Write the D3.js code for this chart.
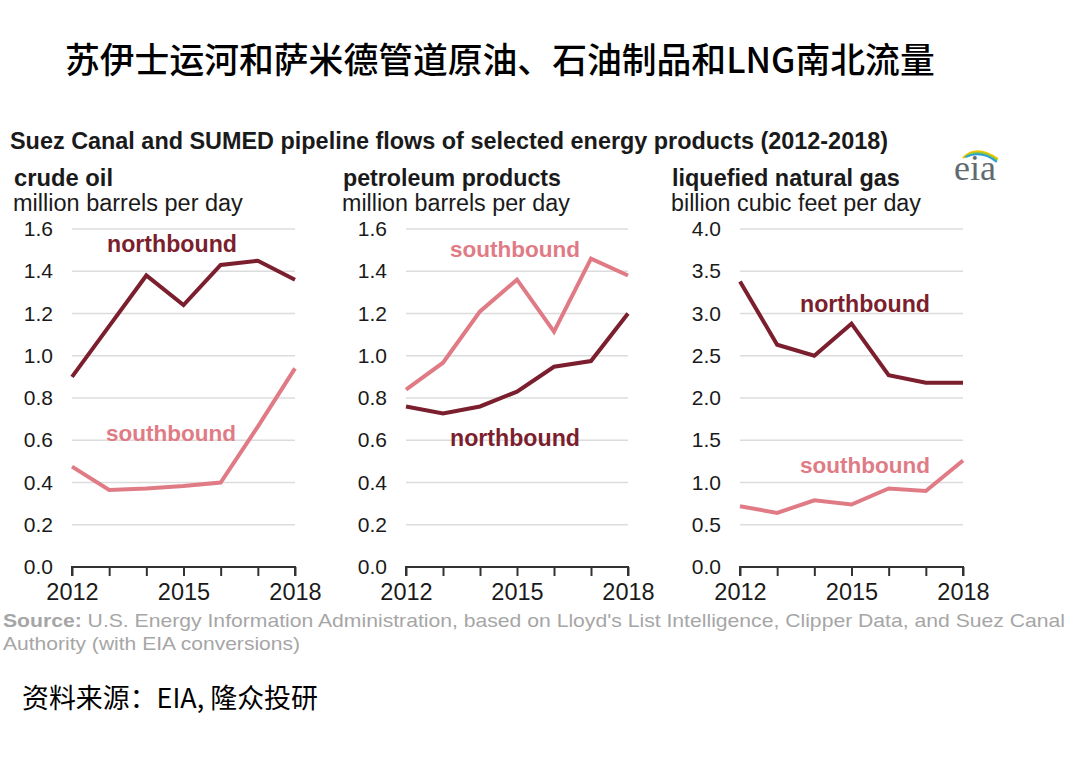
<!DOCTYPE html>
<html>
<head>
<meta charset="utf-8">
<script src="https://cdn.jsdelivr.net/npm/d3@7"></script>
<style>
  body { margin: 0; background: #fff; }
  svg { display: block; font-family: "Liberation Sans", Arial, sans-serif; }
</style>
</head>
<body>
<svg id="chart" width="1080" height="759"></svg>
<script>
const years = [2012, 2013, 2014, 2015, 2016, 2017, 2018];
const yearTicks = [2012, 2015, 2018];

const crudeNorth = [0.90, 1.14, 1.38, 1.24, 1.43, 1.45, 1.36];
const crudeSouth = [0.475, 0.365, 0.372, 0.383, 0.40, 0.665, 0.94];
const productsNorth = [0.76, 0.727, 0.76, 0.83, 0.948, 0.975, 1.20];
const productsSouth = [0.84, 0.967, 1.21, 1.36, 1.114, 1.46, 1.38];
const lngNorth = [3.38, 2.63, 2.50, 2.88, 2.27, 2.18, 2.18];
const lngSouth = [0.72, 0.64, 0.79, 0.74, 0.93, 0.90, 1.26];

const barrelTicks = [0, 0.2, 0.4, 0.6, 0.8, 1.0, 1.2, 1.4, 1.6];
const gasTicks = [0, 0.5, 1.0, 1.5, 2.0, 2.5, 3.0, 3.5, 4.0];

const northColor = "#7b1f2e";
const southColor = "#e07b86";

const svg = d3.select("#chart");

// shrink/grow font so text spans a given width
function fitWidth(sel, w) {
    let node = sel.node();
    let fs = parseFloat(sel.attr("font-size"));
    let len = node.getComputedTextLength();
    if (len > 0) sel.attr("font-size", (fs * w / len).toFixed(2));
    return sel;
}

// chinese header
fitWidth(svg.append("text")
    .attr("x", 65).attr("y", 73)
    .attr("font-family", "'Noto Sans CJK SC', sans-serif")
    .attr("font-weight", 500)
    .attr("font-size", 32)
    .attr("fill", "#000")
    .text("苏伊士运河和萨米德管道原油、石油制品和LNG南北流量"), 870);

// english chart title
fitWidth(svg.append("text")
    .attr("x", 10).attr("y", 149)
    .attr("font-weight", "bold")
    .attr("font-size", 20)
    .attr("fill", "#1a1a1a")
    .text("Suez Canal and SUMED pipeline flows of selected energy products (2012-2018)"), 878);

// eia logo
const logo = svg.append("g").attr("transform", "translate(930,145)");
const arcs = [["#f2c500", 0], ["#8cc63f", 3], ["#2a9fd8", 6]];
arcs.forEach(function(a) {
    logo.append("path")
        .attr("d", `M ${33 + a[1] * 0.5} ${13 - a[1] * 0.2} Q ${46 + a[1]} ${-1 + a[1]} ${68 - a[1] * 0.2} ${14 + a[1] * 0.5}`)
        .attr("fill", "none")
        .attr("stroke", a[0])
        .attr("stroke-width", 2);
});
logo.append("text")
    .attr("x", 45).attr("y", 35)
    .attr("text-anchor", "middle")
    .attr("font-family", "'Liberation Serif', serif")
    .attr("font-size", 36)
    .attr("fill", "#5f6b70")
    .text("eia");

const panels = [
    { title: "crude oil", titleW: 99, unit: "million barrels per day", unitW: 230,
      left: 72, right: 295, titleX: 14,
      ticks: barrelTicks, max: 1.6, fmt: d3.format(".1f"),
      series: [
        { name: "northbound", values: crudeNorth, color: northColor, lx: 172, ly: 252 },
        { name: "southbound", values: crudeSouth, color: southColor, lx: 171, ly: 441 }
      ] },
    { title: "petroleum products", titleW: 218, unit: "million barrels per day", unitW: 228,
      left: 406, right: 628, titleX: 343,
      ticks: barrelTicks, max: 1.6, fmt: d3.format(".1f"),
      series: [
        { name: "southbound", values: productsSouth, color: southColor, lx: 515, ly: 257 },
        { name: "northbound", values: productsNorth, color: northColor, lx: 515, ly: 446 }
      ] },
    { title: "liquefied natural gas", titleW: 228, unit: "billion cubic feet per day", unitW: 250,
      left: 740, right: 963, titleX: 672,
      ticks: gasTicks, max: 4.0, fmt: d3.format(".1f"),
      series: [
        { name: "northbound", values: lngNorth, color: northColor, lx: 865, ly: 312 },
        { name: "southbound", values: lngSouth, color: southColor, lx: 865, ly: 473 }
      ] }
];

const plotTop = 229;
const plotBottom = 567;

panels.forEach(function(p) {
    let g = svg.append("g");

    let x = d3.scaleLinear([2012, 2018], [p.left, p.right]);
    let y = d3.scaleLinear([0, p.max], [plotBottom, plotTop]);

    fitWidth(g.append("text")
        .attr("x", p.titleX).attr("y", 186)
        .attr("font-weight", "bold")
        .attr("font-size", 21)
        .attr("fill", "#1a1a1a")
        .text(p.title), p.titleW);
    fitWidth(g.append("text")
        .attr("x", p.titleX - 1).attr("y", 211)
        .attr("font-size", 20.5)
        .attr("fill", "#1a1a1a")
        .text(p.unit), p.unitW);

    // grid lines
    g.selectAll(".grid").data(p.ticks.filter(d => d > 0))
        .enter().append("line")
        .attr("class", "grid")
        .attr("x1", p.left).attr("x2", p.right)
        .attr("y1", d => y(d)).attr("y2", d => y(d))
        .attr("stroke", "#dcdcdc")
        .attr("stroke-width", 1.5);

    // y axis labels
    let yaxis = d3.axisLeft(y).tickValues(p.ticks).tickFormat(p.fmt).tickSize(0).tickPadding(0);
    let ya = g.append("g")
        .attr("transform", `translate(${p.left - 19},0)`)
        .call(yaxis);
    ya.select(".domain").remove();
    ya.selectAll("text")
        .attr("font-family", "'Liberation Sans', Arial, sans-serif")
        .attr("font-size", 21)
        .attr("fill", "#1a1a1a");

    // x axis
    let xaxis = d3.axisBottom(x).tickValues(years).tickSize(9).tickFormat(d => yearTicks.includes(d) ? d : "");
    let xa = g.append("g")
        .attr("transform", `translate(0,${plotBottom})`)
        .call(xaxis);
    xa.select(".domain")
        .attr("d", `M${p.left},9V0H${p.right}V9`)
        .attr("stroke", "#333")
        .attr("stroke-width", 2);
    xa.selectAll(".tick line").attr("stroke", "#333").attr("stroke-width", 2);
    xa.selectAll("text")
        .attr("font-family", "'Liberation Sans', Arial, sans-serif")
        .attr("font-size", 23.5)
        .attr("dy", "0.71em")
        .attr("y", 16)
        .attr("fill", "#1a1a1a");

    let line = d3.line()
        .x((d, i) => x(years[i]))
        .y(d => y(d));

    p.series.forEach(function(s) {
        g.append("path")
            .datum(s.values)
            .attr("fill", "none")
            .attr("stroke", s.color)
            .attr("stroke-width", 4)
            .attr("stroke-linejoin", "miter")
            .attr("d", line);
        fitWidth(g.append("text")
            .attr("x", s.lx).attr("y", s.ly)
            .attr("text-anchor", "middle")
            .attr("font-weight", "bold")
            .attr("font-size", 21.5)
            .attr("fill", s.color)
            .text(s.name), 130);
    });
});

// source note
const src = svg.append("text")
    .attr("x", 3).attr("y", 627)
    .attr("font-size", 19)
    .attr("fill", "#a6a6a6")
    .attr("textLength", 1062)
    .attr("lengthAdjust", "spacingAndGlyphs");
src.append("tspan").attr("font-weight", "bold").text("Source:");
src.append("tspan").text(" U.S. Energy Information Administration, based on Lloyd's List Intelligence, Clipper Data, and Suez Canal");

svg.append("text")
    .attr("x", 3).attr("y", 650)
    .attr("font-size", 19)
    .attr("fill", "#a6a6a6")
    .attr("textLength", 297)
    .attr("lengthAdjust", "spacingAndGlyphs")
    .text("Authority (with EIA conversions)");

// chinese footer
fitWidth(svg.append("text")
    .attr("x", 22).attr("y", 708)
    .attr("font-family", "'Noto Sans CJK SC', sans-serif")
    .attr("font-size", 22)
    .attr("fill", "#000")
    .text("资料来源：EIA, 隆众投研"), 296);
</script>
</body>
</html>
